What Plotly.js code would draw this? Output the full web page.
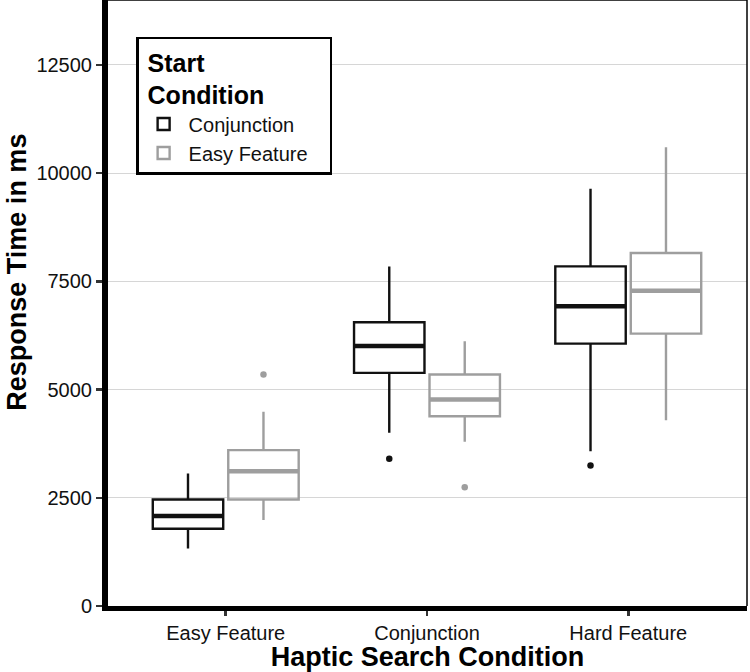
<!DOCTYPE html>
<html>
<head>
<meta charset="utf-8">
<script src="https://cdn.plot.ly/plotly-3.0.1.min.js"></script>
<style>
  html, body { margin: 0; padding: 0; background: #ffffff; }
  #chart { width: 750px; height: 672px; }
</style>
</head>
<body>
<div id="chart"></div>
<script>
// Haptic search response times by search condition and start condition
const categories = ['Easy Feature', 'Conjunction', 'Hard Feature'];

// Start condition: Conjunction
const conjQ1 = [1786, 5386, 6062];
const conjMedian = [2077, 6009, 6923];
const conjQ3 = [2462, 6554, 7846];
const conjLower = [1331, 4001, 3577];
const conjUpper = [3062, 7846, 9639];
const conjOutlierCat = ['Conjunction', 'Hard Feature'];
const conjOutlierVal = [3401, 3247];

// Start condition: Easy Feature
const easyQ1 = [2462, 4385, 6293];
const easyMedian = [3115, 4770, 7285];
const easyQ3 = [3600, 5347, 8155];
const easyLower = [1985, 3794, 4292];
const easyUpper = [4486, 6115, 10601];
const easyOutlierCat = ['Easy Feature', 'Conjunction'];
const easyOutlierVal = [5347, 2746];

const yTicks = [0, 2500, 5000, 7500, 10000, 12500];

const FONT = 'Liberation Sans, Arial, Helvetica, sans-serif';
const BLACK = '#111111';
const GREY = '#9e9e9e';

function boxTrace(name, group, color, q1, med, q3, lo, hi) {
  return {
    type: 'box',
    name: name,
    legendgroup: group,
    x: categories,
    q1: q1, median: med, q3: q3,
    lowerfence: lo, upperfence: hi,
    offsetgroup: group,
    boxpoints: false,
    whiskerwidth: 0,
    fillcolor: 'rgba(255,255,255,0)',
    line: { color: color, width: 2.4 },
    hoverinfo: 'y'
  };
}

// thicker median bar drawn on top of each box
function medianTrace(group, color, med) {
  return {
    type: 'box',
    legendgroup: group,
    x: categories,
    q1: med, median: med, q3: med,
    lowerfence: med, upperfence: med,
    offsetgroup: group,
    boxpoints: false,
    whiskerwidth: 0,
    fillcolor: 'rgba(0,0,0,0)',
    line: { color: color, width: 4.5 },
    showlegend: false,
    hoverinfo: 'skip'
  };
}

// outlying observations, dodged like the boxes
function outlierTrace(group, color, cats, vals) {
  return {
    type: 'scatter',
    mode: 'markers',
    legendgroup: group,
    x: cats,
    y: vals,
    offsetgroup: group,
    marker: { color: color, size: 6.5 },
    showlegend: false,
    hoverinfo: 'y'
  };
}

const data = [
  boxTrace('Conjunction', 'conj', BLACK, conjQ1, conjMedian, conjQ3, conjLower, conjUpper),
  boxTrace('Easy Feature', 'easy', GREY, easyQ1, easyMedian, easyQ3, easyLower, easyUpper),
  medianTrace('conj', BLACK, conjMedian),
  medianTrace('easy', GREY, easyMedian),
  outlierTrace('conj', BLACK, conjOutlierCat, conjOutlierVal),
  outlierTrace('easy', GREY, easyOutlierCat, easyOutlierVal)
];

const layout = {
  width: 750,
  height: 672,
  margin: { l: 108, r: 3, t: 0, b: 66 },
  paper_bgcolor: '#ffffff',
  plot_bgcolor: '#ffffff',
  font: { family: FONT, color: BLACK },
  boxmode: 'group',
  boxgap: 0.25,
  boxgroupgap: 0.0667,
  scattermode: 'group',
  scattergap: 0.25,
  showlegend: true,
  legend: {
    x: 0.044, y: 0.939, xanchor: 'left', yanchor: 'top',
    bgcolor: '#ffffff',
    bordercolor: '#000000',
    borderwidth: 2.5,
    traceorder: 'normal',
    font: { family: FONT, size: 20, color: BLACK },
    title: {
      text: '<b>&nbsp;Start<br>&nbsp;Condition&nbsp;&nbsp;&nbsp;&nbsp;&nbsp;&nbsp;&nbsp;&nbsp;&nbsp;</b>',
      font: { family: FONT, size: 25, color: '#000000' }
    },
    tracegroupgap: 0,
    itemwidth: 40
  },
  xaxis: {
    type: 'category',
    categoryorder: 'array',
    categoryarray: categories,
    range: [-0.585, 2.59],
    showline: true,
    linecolor: '#000000',
    linewidth: 4.5,
    ticks: 'outside',
    ticklen: 5,
    tickwidth: 2.5,
    tickcolor: '#333333',
    tickfont: { family: FONT, size: 20, color: BLACK },
    showgrid: false,
    zeroline: false,
    title: {
      text: '<b>Haptic Search Condition</b>',
      font: { family: FONT, size: 27, color: '#000000' },
      standoff: 0
    }
  },
  yaxis: {
    range: [0, 14000],
    tickvals: yTicks,
    ticktext: yTicks.map(String),
    showline: true,
    linecolor: '#000000',
    linewidth: 6,
    ticks: 'outside',
    ticklen: 6,
    tickwidth: 2.5,
    tickcolor: '#333333',
    tickfont: { family: FONT, size: 20, color: BLACK },
    showgrid: true,
    gridcolor: '#d6d6d6',
    gridwidth: 1,
    zeroline: false,
    title: { text: '' }
  },
  annotations: [
    {
      // y-axis title, centred a little above the panel middle
      text: '<b>Response Time in ms</b>',
      xref: 'paper', yref: 'paper',
      x: 0, y: 0.55,
      xanchor: 'center', yanchor: 'middle',
      xshift: -91,
      textangle: -90,
      showarrow: false,
      font: { family: FONT, size: 27, color: '#000000' }
    }
  ],
  shapes: [
    // thin frame on the top and right edges of the panel
    { type: 'line', xref: 'paper', yref: 'paper', x0: 0, x1: 1, y0: 1, y1: 1,
      line: { color: '#000000', width: 1.5 }, layer: 'above' },
    { type: 'line', xref: 'paper', yref: 'paper', x0: 1, x1: 1, y0: 0, y1: 1,
      line: { color: '#000000', width: 1.5 }, layer: 'above' }
  ]
};

Plotly.newPlot('chart', data, layout, { displayModeBar: false, staticPlot: true });
</script>
</body>
</html>
